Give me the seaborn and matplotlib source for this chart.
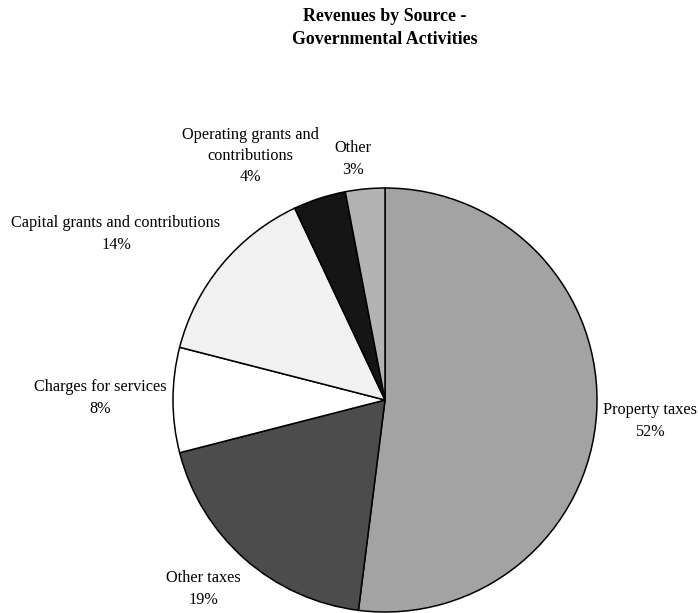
import matplotlib
matplotlib.use("Agg")
import matplotlib.pyplot as plt
import seaborn as sns

# ---- data ----
categories = ["Property taxes", "Other taxes", "Charges for services",
              "Capital grants and contributions", "Operating grants and\ncontributions", "Other"]
shares = [52, 19, 8, 14, 4, 3]
title_text = "Revenues by Source -\nGovernmental Activities"

# ---- styles ----
colors = ["#a3a3a3", "#4c4c4c", "#ffffff", "#f1f1f1", "#151515", "#b3b3b3"]
# label centres in pixel coordinates (image space, y down)
label_pos = [(650, 421), (203, 589), (100, 398), (116, 234), (250, 156), (353, 159)]

sns.set_theme(style="white")
plt.rcParams["font.family"] = ["Liberation Serif", "DejaVu Serif"]

W, H = 698, 613
fig = plt.figure(figsize=(W / 100, H / 100), dpi=100)
ax = fig.add_axes([0, 0, 1, 1])

ax.pie(shares, colors=colors, startangle=90, counterclock=False,
       center=(385, H - 400), radius=212,
       wedgeprops=dict(edgecolor="black", linewidth=1.1), frame=True)

for cat, val, (x, y) in zip(categories, shares, label_pos):
    ax.text(x, H - y, f"{cat}\n{val}%", ha="center", va="center",
            fontsize=11.7, linespacing=1.42, color="black")

ax.text(385, H - 28, title_text, ha="center", va="center", fontsize=12.9,
        fontweight="bold", linespacing=1.5, color="black")

ax.set_xlim(0, W)
ax.set_ylim(0, H)
ax.set_aspect("equal")
ax.axis("off")

fig.savefig("out.png", dpi=100, facecolor="white")
